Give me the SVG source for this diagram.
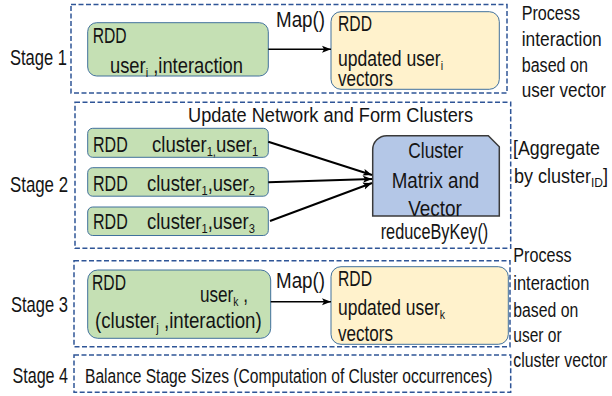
<svg xmlns="http://www.w3.org/2000/svg" width="612" height="396" viewBox="0 0 612 396">
<style>
text{font-family:"Liberation Sans",Arial,sans-serif;fill:#141414}
.st{font-size:22.5px}
.m{font-size:21.5px}
.s{font-size:19.5px}
.sub{font-size:13px}
.stage{fill:none;stroke:#2F5597;stroke-width:1.5;stroke-dasharray:5 2.5}
.g{fill:#C5E0B4;stroke:#41719C;stroke-width:1}
.y{fill:#FFF2CC;stroke:#41719C;stroke-width:1}
.b{fill:#B4C7E7;stroke:#3A3A3A;stroke-width:1.5}
.c{stroke:#000;stroke-width:2;fill:none}
</style>
<defs>
<marker id="ah" markerWidth="10" markerHeight="8" refX="9" refY="4" orient="auto" markerUnits="userSpaceOnUse">
<path d="M0,0.5 L9,4 L0,7.5 L2,4 Z" fill="#000"/>
</marker>
</defs>

<g id="stage1">
<rect class="stage" x="71" y="4.5" width="436" height="88.5"/>
<text class="st" x="67" y="65" text-anchor="end" textLength="57" lengthAdjust="spacingAndGlyphs">Stage 1</text>
</g>
<g id="stage2">
<rect class="stage" x="75" y="102.3" width="435.7" height="146"/>
<text class="st" x="68" y="191.7" text-anchor="end" textLength="58" lengthAdjust="spacingAndGlyphs">Stage 2</text>
<text class="s" x="188" y="121.7" textLength="285" lengthAdjust="spacingAndGlyphs">Update Network and Form Clusters</text>
</g>
<g id="stage3">
<rect class="stage" x="74" y="260.7" width="436" height="86"/>
<text class="st" x="68" y="311.7" text-anchor="end" textLength="57" lengthAdjust="spacingAndGlyphs">Stage 3</text>
</g>
<g id="stage4">
<rect class="stage" x="74" y="355" width="436.7" height="37.3"/>
<text class="st" x="68" y="383.3" text-anchor="end" textLength="55.5" lengthAdjust="spacingAndGlyphs">Stage 4</text>
<text class="s" x="85" y="383.3" textLength="407.5" lengthAdjust="spacingAndGlyphs">Balance Stage Sizes (Computation of Cluster occurrences)</text>
</g>

<g id="rdd1">
<rect class="g" x="87.7" y="22.7" width="180.6" height="53.3" rx="9"/>
<text class="m" x="92.7" y="42.7" textLength="34" lengthAdjust="spacingAndGlyphs">RDD</text>
<text class="m" x="110" y="72.7" textLength="133" lengthAdjust="spacingAndGlyphs">user<tspan class="sub" dy="4">i</tspan><tspan dy="-4"> ,interaction</tspan></text>
</g>
<g id="upd1">
<rect class="y" x="331" y="11.7" width="168.3" height="77.6" rx="10"/>
<text class="m" x="338" y="30.7" textLength="34" lengthAdjust="spacingAndGlyphs">RDD</text>
<text class="m" x="338" y="65.5" textLength="105" lengthAdjust="spacingAndGlyphs">updated user<tspan class="sub" dy="4">i</tspan></text>
<text class="m" x="338" y="86" textLength="55" lengthAdjust="spacingAndGlyphs">vectors</text>
</g>
<g id="note1">
<text class="s" x="521.7" y="20" textLength="58.3" lengthAdjust="spacingAndGlyphs">Process</text>
<text class="s" x="521.7" y="46" textLength="80" lengthAdjust="spacingAndGlyphs">interaction</text>
<text class="s" x="521.7" y="71.7" textLength="66.3" lengthAdjust="spacingAndGlyphs">based on</text>
<text class="s" x="521.7" y="97.3" textLength="84.3" lengthAdjust="spacingAndGlyphs">user vector</text>
</g>

<g id="rdd2a">
<rect class="g" x="87.7" y="128.3" width="180.6" height="29" rx="5"/>
<text class="m" x="93" y="151.7" textLength="34.7" lengthAdjust="spacingAndGlyphs">RDD</text>
<text class="m" x="152" y="151.7" textLength="106.3" lengthAdjust="spacingAndGlyphs">cluster<tspan class="sub" dy="4">1,</tspan><tspan dy="-4">user</tspan><tspan class="sub" dy="4">1</tspan></text>
</g>
<g id="rdd2b">
<rect class="g" x="87.7" y="167.7" width="180.6" height="28.5" rx="5"/>
<text class="m" x="93" y="190.7" textLength="34.7" lengthAdjust="spacingAndGlyphs">RDD</text>
<text class="m" x="147" y="190.7" textLength="108" lengthAdjust="spacingAndGlyphs">cluster<tspan class="sub" dy="4">1</tspan><tspan dy="-4">,user</tspan><tspan class="sub" dy="4">2</tspan></text>
</g>
<g id="rdd2c">
<rect class="g" x="87.7" y="207" width="180.6" height="28.5" rx="5"/>
<text class="m" x="93" y="229" textLength="34.7" lengthAdjust="spacingAndGlyphs">RDD</text>
<text class="m" x="147" y="229" textLength="108" lengthAdjust="spacingAndGlyphs">cluster<tspan class="sub" dy="4">1</tspan><tspan dy="-4">,user</tspan><tspan class="sub" dy="4">3</tspan></text>
</g>
<g id="cluster">
<path class="b" d="M372.7,216 V149.7 A14,14 0 0 1 386.7,135.7 H488.3 L499.3,146.7 V216 Z"/>
<text class="m" x="435.8" y="158.3" text-anchor="middle" textLength="55" lengthAdjust="spacingAndGlyphs">Cluster</text>
<text class="m" x="435.5" y="188.3" text-anchor="middle" textLength="87.6" lengthAdjust="spacingAndGlyphs">Matrix and</text>
<text class="m" x="435" y="215.7" text-anchor="middle" textLength="53.7" lengthAdjust="spacingAndGlyphs">Vector</text>
<text class="m" x="434.5" y="239" text-anchor="middle" textLength="107.6" lengthAdjust="spacingAndGlyphs">reduceByKey()</text>
</g>
<g id="note2">
<text class="s" x="513" y="155" textLength="87" lengthAdjust="spacingAndGlyphs">[Aggregate</text>
<text class="s" x="514" y="183.3" textLength="94" lengthAdjust="spacingAndGlyphs">by cluster<tspan class="sub" dy="4">ID</tspan><tspan dy="-4">]</tspan></text>
</g>

<g id="rdd3">
<rect class="g" x="87.7" y="270" width="183" height="68.3" rx="10"/>
<text class="m" x="92" y="290" textLength="34" lengthAdjust="spacingAndGlyphs">RDD</text>
<text class="m" x="200" y="301.7" textLength="48" lengthAdjust="spacingAndGlyphs">user<tspan class="sub" dy="4">k</tspan><tspan dy="-4"> ,</tspan></text>
<text class="m" x="95" y="327.7" textLength="166.7" lengthAdjust="spacingAndGlyphs">(cluster<tspan class="sub" dy="4">j</tspan><tspan dy="-4"> ,interaction)</tspan></text>
</g>
<g id="upd3">
<rect class="y" x="331" y="266.7" width="177.3" height="77.6" rx="10"/>
<text class="m" x="338" y="285.7" textLength="34" lengthAdjust="spacingAndGlyphs">RDD</text>
<text class="m" x="338" y="315" textLength="107" lengthAdjust="spacingAndGlyphs">updated user<tspan class="sub" dy="4">k</tspan></text>
<text class="m" x="338" y="340.5" textLength="55" lengthAdjust="spacingAndGlyphs">vectors</text>
</g>
<g id="note3">
<text class="s" x="513.3" y="262" textLength="58.3" lengthAdjust="spacingAndGlyphs">Process</text>
<text class="s" x="513.3" y="290" textLength="76" lengthAdjust="spacingAndGlyphs">interaction</text>
<text class="s" x="513.3" y="316.7" textLength="65" lengthAdjust="spacingAndGlyphs">based on</text>
<text class="s" x="513.3" y="341.7" textLength="48.4" lengthAdjust="spacingAndGlyphs">user or</text>
<text class="s" x="513.3" y="366.7" textLength="94" lengthAdjust="spacingAndGlyphs">cluster vector</text>
</g>

<g id="connectors">
<line x1="268.3" y1="49.3" x2="331" y2="49.3" stroke="#000" stroke-width="1.5" marker-end="url(#ah)"/>
<text class="m" x="276" y="27" textLength="49" lengthAdjust="spacingAndGlyphs">Map()</text>
<line class="c" x1="268.3" y1="141.7" x2="372" y2="175" marker-end="url(#ah)"/>
<line class="c" x1="268.3" y1="182.3" x2="372" y2="179" marker-end="url(#ah)"/>
<line class="c" x1="270" y1="221" x2="372" y2="183" marker-end="url(#ah)"/>
<line x1="270.7" y1="301.7" x2="331" y2="301.7" stroke="#000" stroke-width="1.5" marker-end="url(#ah)"/>
<text class="m" x="276" y="288.3" textLength="49" lengthAdjust="spacingAndGlyphs">Map()</text>
</g>
</svg>
